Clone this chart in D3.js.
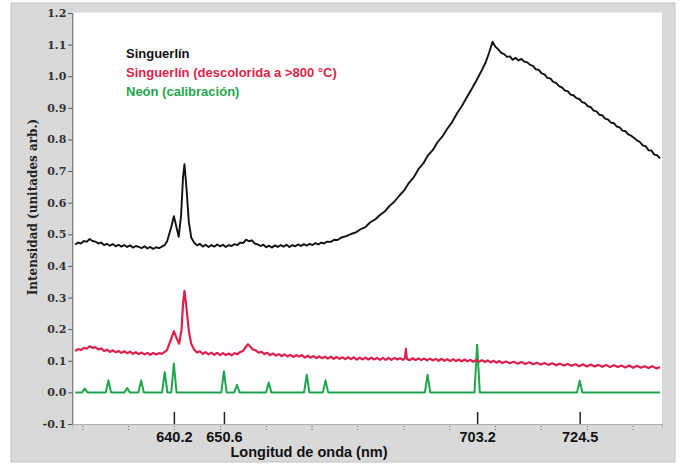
<!DOCTYPE html>
<html>
<head>
<meta charset="utf-8">
<script src="https://cdn.jsdelivr.net/npm/d3@7"></script>
<style>
  html, body { margin: 0; padding: 0; background: #fff; }
  svg { display: block; }
</style>
</head>
<body>
<div id="graph-container" style="width:684px;height:465px"></div>
<script>
// series values, [wavelength nm, intensity]
const singuerlin = [
  [619.7,0.468],[620.3,0.474],[620.9,0.471],[621.5,0.479],[622.1,0.476],[622.7,0.485],[623.3,0.479],
  [623.9,0.477],[624.5,0.471],[625.1,0.474],[625.7,0.466],[626.3,0.470],[626.9,0.464],[627.5,0.469],
  [628.1,0.462],[628.7,0.467],[629.3,0.461],[629.9,0.466],[630.5,0.460],[631.1,0.465],[631.7,0.458],
  [632.3,0.463],[632.9,0.460],[633.5,0.456],[634.1,0.462],[634.7,0.455],[635.3,0.460],[635.9,0.454],
  [636.5,0.459],[637.1,0.456],[637.7,0.461],[638.3,0.466],[638.8,0.478],
  [639.6,0.520],[640.2,0.557],[640.7,0.525],[641.2,0.492],[641.7,0.560],[642.1,0.680],[642.4,0.722],
  [642.8,0.650],[643.3,0.540],[643.8,0.490],[644.4,0.474],[645.0,0.465],[645.6,0.470],[646.2,0.461],
  [646.8,0.467],[647.4,0.460],[648.0,0.466],[648.6,0.461],[649.2,0.468],[649.8,0.462],[650.4,0.467],
  [651.0,0.460],[651.6,0.466],[652.2,0.463],[652.8,0.469],[653.4,0.466],[654.0,0.474],[654.6,0.472],
  [655.2,0.483],[655.8,0.478],[656.4,0.481],[657.0,0.471],[657.6,0.468],[658.2,0.463],[658.8,0.467],
  [659.4,0.459],[660.0,0.464],[660.6,0.458],[661.2,0.465],[661.8,0.460],[662.4,0.466],[663.0,0.461],
  [663.6,0.467],[664.2,0.460],[664.8,0.466],[665.4,0.462],[666.0,0.468],[666.6,0.463],[667.2,0.469],
  [667.8,0.464],[668.4,0.470],[669.0,0.466],[669.6,0.472],[670.2,0.468],[670.8,0.474],[671.4,0.471],
  [672.0,0.477],[672.8,0.476],[673.5,0.483],[674.2,0.482],[675.0,0.490],[676.0,0.494],[677.0,0.501],
  [678.0,0.506],[679.0,0.516],[680.0,0.523],[681.0,0.538],[682.0,0.547],[683.0,0.561],[684.0,0.572],
  [685.0,0.590],[686.0,0.603],[687.0,0.622],[688.0,0.638],[689.0,0.662],[690.0,0.680],[691.0,0.706],
  [692.0,0.724],[693.0,0.750],[694.0,0.767],[695.0,0.792],[696.0,0.810],[697.0,0.834],[698.0,0.855],
  [699.0,0.882],[700.0,0.905],[701.0,0.932],[702.0,0.958],[703.0,0.985],[704.0,1.014],[705.0,1.045],
  [705.7,1.075],[706.4,1.109],[707.0,1.093],[707.6,1.085],[708.2,1.074],[708.8,1.070],[709.4,1.061],
  [710.0,1.063],[710.6,1.052],[711.2,1.058],[711.8,1.050],[712.4,1.055],[713.0,1.046],[713.6,1.044],
  [714.2,1.036],[714.8,1.033],[715.4,1.022],[716.0,1.020],[716.6,1.009],[717.2,1.006],[717.8,0.995],
  [718.4,0.993],[719.0,0.982],[719.6,0.979],[720.2,0.969],[720.8,0.965],[721.4,0.955],[722.0,0.953],
  [722.6,0.942],[723.2,0.940],[723.8,0.931],[724.4,0.928],[725.0,0.918],[725.6,0.915],[726.2,0.905],
  [726.8,0.902],[727.4,0.891],[728.0,0.889],[728.6,0.878],[729.2,0.876],[729.8,0.866],[730.4,0.863],
  [731.0,0.853],[731.6,0.852],[732.2,0.841],[732.8,0.838],[733.4,0.828],[734.0,0.826],[734.6,0.816],
  [735.2,0.812],[735.8,0.805],[736.4,0.797],[737.0,0.792],[737.6,0.781],[738.2,0.779],[738.8,0.766],
  [739.4,0.765],[740.0,0.752],[740.6,0.750],[741.2,0.740]
]

const descolorida = [
  [619.7,0.131],[620.3,0.137],[620.9,0.134],[621.5,0.141],[622.1,0.138],[622.7,0.146],[623.3,0.141],
  [623.9,0.143],[624.5,0.136],[625.1,0.139],[625.7,0.131],[626.3,0.135],[626.9,0.128],[627.5,0.133],
  [628.1,0.127],[628.7,0.131],[629.3,0.125],[629.9,0.130],[630.5,0.124],[631.1,0.129],[631.7,0.122],
  [632.3,0.127],[632.9,0.121],[633.5,0.126],[634.1,0.120],[634.7,0.125],[635.3,0.119],[635.9,0.125],
  [636.5,0.120],[637.1,0.124],[637.7,0.122],[638.3,0.128],[638.8,0.135],
  [639.6,0.168],[640.2,0.194],[640.8,0.170],[641.3,0.154],[641.8,0.200],[642.1,0.280],[642.4,0.321],
  [642.8,0.270],[643.3,0.195],[643.8,0.154],[644.4,0.136],[645.0,0.126],[645.6,0.130],[646.2,0.122],
  [646.8,0.127],[647.4,0.120],[648.0,0.126],[648.6,0.119],[649.2,0.125],[649.8,0.118],[650.4,0.124],
  [651.0,0.118],[651.6,0.123],[652.2,0.117],[652.8,0.124],[653.4,0.121],[654.0,0.128],[654.6,0.132],
  [655.2,0.145],[655.6,0.152],[656.0,0.146],[656.6,0.136],[657.2,0.133],[657.8,0.126],[658.4,0.128],
  [659.0,0.121],[659.6,0.125],[660.2,0.118],[660.8,0.123],[661.4,0.116],[662.0,0.121],[662.6,0.115],
  [663.2,0.120],[663.8,0.114],[664.4,0.119],[665.0,0.112],[665.6,0.118],[666.2,0.113],[666.8,0.118],
  [667.4,0.110],[668.0,0.116],[668.6,0.110],[669.2,0.115],[669.8,0.108],[670.4,0.114],[671.0,0.108],
  [671.6,0.113],[672.2,0.107],[672.8,0.113],[673.4,0.106],[674.0,0.112],[674.6,0.106],[675.2,0.111],
  [675.8,0.105],[676.4,0.111],[677.0,0.105],[677.6,0.111],[678.2,0.104],[678.8,0.110],[679.4,0.104],
  [680.0,0.110],[680.6,0.104],[681.2,0.110],[681.8,0.104],[682.4,0.109],[683.0,0.103],[683.6,0.109],
  [684.2,0.103],[684.8,0.109],[685.4,0.103],[686.0,0.109],[686.6,0.104],[687.2,0.108],[687.8,0.103],
  [688.2,0.108],[688.4,0.138],[688.6,0.106],[689.2,0.102],[689.8,0.108],[690.4,0.102],[691.0,0.107],
  [691.6,0.102],[692.2,0.107],[692.8,0.101],[693.4,0.107],[694.0,0.101],[694.6,0.106],[695.2,0.100],
  [695.8,0.106],[696.4,0.100],[697.0,0.105],[697.6,0.099],[698.2,0.105],[698.8,0.099],[699.4,0.104],
  [700.0,0.098],[700.6,0.104],[701.2,0.098],[701.8,0.103],[702.4,0.097],[703.0,0.103],[703.6,0.097],
  [704.2,0.102],[704.8,0.096],[705.4,0.101],[706.0,0.095],[706.6,0.100],[707.2,0.094],[707.8,0.099],
  [708.4,0.093],[709.2,0.098],[710.0,0.092],[710.8,0.097],[711.6,0.091],[712.4,0.096],[713.2,0.090],
  [714.0,0.095],[714.8,0.089],[715.6,0.094],[716.4,0.088],[717.2,0.093],[718.0,0.087],[718.8,0.092],
  [719.6,0.086],[720.4,0.091],[721.2,0.085],[722.0,0.090],[722.8,0.084],[723.6,0.089],[724.4,0.083],
  [725.2,0.089],[726.0,0.082],[726.8,0.088],[727.6,0.082],[728.4,0.087],[729.2,0.081],[730.0,0.087],
  [730.8,0.080],[731.6,0.086],[732.4,0.080],[733.2,0.085],[734.0,0.079],[734.8,0.085],[735.6,0.078],
  [736.4,0.084],[737.2,0.078],[738.0,0.083],[738.8,0.077],[739.6,0.083],[740.4,0.076],[741.2,0.080]
]

// neon calibration lines
const neonLines   = [621.7, 626.6, 630.5, 633.4, 638.3, 640.2, 650.6, 653.3, 659.9, 667.8, 671.7, 692.9, 703.2, 724.5]
const neonHeights = [0.012, 0.038, 0.014, 0.038, 0.064, 0.091, 0.067, 0.024, 0.031, 0.056, 0.038, 0.056, 0.151, 0.037]

// tick labels
const yTicks = [-0.1, 0.0, 0.1, 0.2, 0.3, 0.4, 0.5, 0.6, 0.7, 0.8, 0.9, 1.0, 1.1, 1.2]
const xLabelTicks = [640.2, 650.6, 703.2, 724.5]
const xMinorTicks = [621.2, 630.7, 640.2, 649.8, 659.3, 668.8, 678.3, 687.9, 697.4, 706.9, 716.4, 726.0, 735.5]

const legendItems = [
  {name: "Singuerlín", color: "#111111"},
  {name: "Singuerlín (descolorida a >800 °C)", color: "#dc1f4b"},
  {name: "Neón (calibración)", color: "#1fa64c"}
]

const width = 684
const height = 465
const plot = {left: 72.3, right: 662, top: 13, bottom: 424}

const svg = d3.select("#graph-container")
  .append("svg")
  .attr("id", "graph")
  .attr("width", width)
  .attr("height", height)

// gray frame
svg.append("rect")
  .attr("x", 11).attr("y", 3)
  .attr("width", 664).attr("height", 459)
  .attr("fill", "#d9d9d9")
  .attr("stroke", "#c2c2c2")

svg.append("rect")
  .attr("x", plot.left).attr("y", plot.top - 0.5)
  .attr("width", plot.right - plot.left).attr("height", plot.bottom - plot.top + 0.5)
  .attr("fill", "#ffffff")

const x = d3.scaleLinear().domain([619.1, 741.6]).range([plot.left, plot.right])
const y = d3.scaleLinear().domain([-0.1, 1.2]).range([plot.bottom, plot.top])

// y axis
const yAxis = svg.append("g")
  .attr("transform", `translate(${plot.left},0)`)
  .call(d3.axisLeft(y).tickValues(yTicks).tickSize(4).tickPadding(2).tickFormat(d => d.toFixed(1)))
yAxis.select(".domain").attr("stroke", "#555")
yAxis.selectAll(".tick line").attr("stroke", "#555")
yAxis.selectAll("text")
  .attr("fill", "#333")
  .style("font-family", "'DejaVu Serif', serif")
  .style("font-weight", "bold")
  .style("font-size", "11px")

// x axis minor ticks
const xMinor = svg.append("g")
  .attr("transform", `translate(0,${plot.bottom})`)
  .call(d3.axisBottom(x).tickValues(xMinorTicks).tickSize(4).tickFormat(""))
xMinor.select(".domain").attr("stroke", "#b0b0b0")
xMinor.selectAll(".tick line").attr("stroke", "#666").attr("stroke-dasharray", "1,2").attr("transform", "translate(0,2)")

// x axis labelled ticks pointing up into the plot
const xMajor = svg.append("g")
  .attr("transform", `translate(0,${plot.bottom})`)
  .call(d3.axisBottom(x).tickValues(xLabelTicks).tickSizeInner(-12).tickSizeOuter(0).tickPadding(8).tickFormat(d => d.toFixed(1)))
xMajor.select(".domain").remove()
xMajor.selectAll(".tick line").attr("stroke", "#222").attr("stroke-width", 1.5)
xMajor.selectAll("text")
  .attr("fill", "#111")
  .style("font-family", "'Liberation Sans Narrow', 'Arial Narrow', sans-serif")
  .style("font-weight", "bold")
  .style("font-size", "14.5px")

// axis titles
svg.append("text")
  .attr("transform", "translate(37,207) rotate(-90)")
  .attr("text-anchor", "middle")
  .attr("fill", "#222")
  .style("font-family", "'DejaVu Serif', serif")
  .style("font-weight", "bold")
  .style("font-size", "12px")
  .text("Intensidad (unitades arb.)")

svg.append("text")
  .attr("x", 309).attr("y", 457)
  .attr("text-anchor", "middle")
  .attr("fill", "#111")
  .style("font-family", "'Liberation Sans Narrow', 'Arial Narrow', sans-serif")
  .style("font-weight", "bold")
  .style("font-size", "14.5px")
  .text("Longitud de onda (nm)")

// lines
const line = d3.line().x(d => x(d[0])).y(d => y(d[1]))

// green spectrum: flat baseline with a narrow peak at each neon line
let neonPts = [[619.7, 0]]
neonLines.forEach((l, i) => {
  neonPts.push([l - 0.55, 0], [l, neonHeights[i]], [l + 0.55, 0])
})
neonPts.push([741.2, 0])

svg.append("path")
  .datum(neonPts)
  .attr("d", line)
  .attr("fill", "none")
  .attr("stroke", legendItems[2].color)
  .attr("stroke-width", 2)
  .attr("stroke-linejoin", "round")

svg.append("path")
  .datum(descolorida)
  .attr("d", line)
  .attr("fill", "none")
  .attr("stroke", legendItems[1].color)
  .attr("stroke-width", 2.2)
  .attr("stroke-linejoin", "round")

svg.append("path")
  .datum(singuerlin)
  .attr("d", line)
  .attr("fill", "none")
  .attr("stroke", legendItems[0].color)
  .attr("stroke-width", 1.9)
  .attr("stroke-linejoin", "round")

// legend
svg.selectAll(".legend")
  .data(legendItems)
  .enter()
  .append("text")
  .attr("class", "legend")
  .attr("x", 126)
  .attr("y", (d, i) => 57.5 + i * 19)
  .attr("fill", d => d.color)
  .style("font-family", "'Liberation Sans', Arial, sans-serif")
  .style("font-weight", "bold")
  .style("font-size", "13px")
  .text(d => d.name)
</script>
</body>
</html>
